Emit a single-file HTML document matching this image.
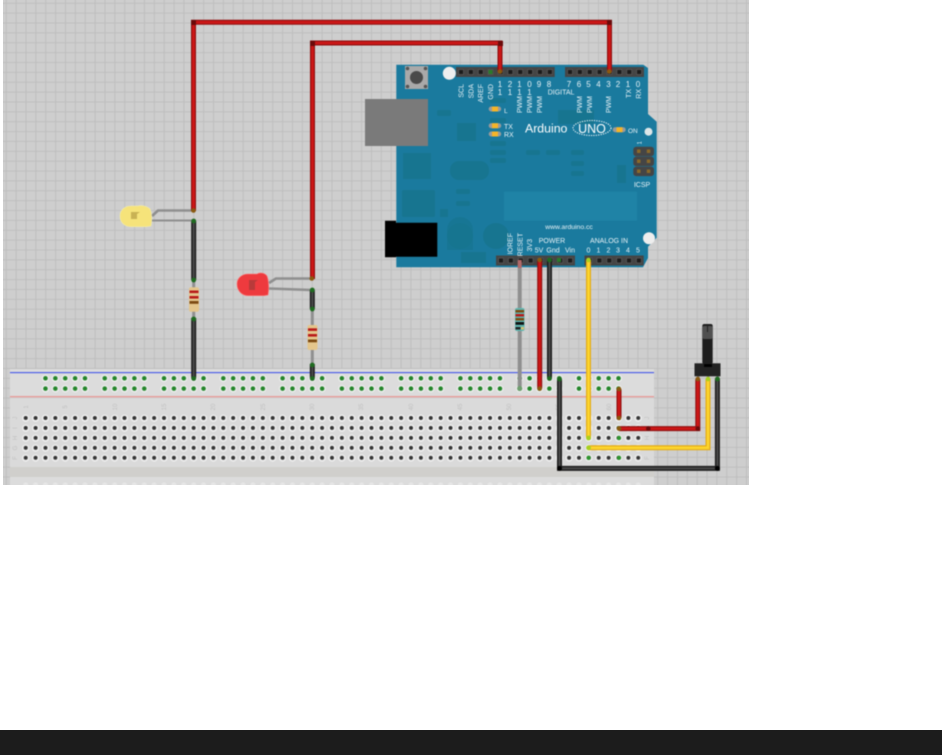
<!DOCTYPE html>
<html><head><meta charset="utf-8"><style>
html,body{margin:0;padding:0;background:#fff;width:942px;height:755px;overflow:hidden}
svg{display:block}
text{font-family:"Liberation Sans",sans-serif}
.soft{filter:blur(.4px)}
</style></head><body>
<svg width="942" height="755" viewBox="0 0 942 755" xmlns="http://www.w3.org/2000/svg">
<defs>
<pattern id="g" patternUnits="userSpaceOnUse" x="5.8" y="2.8" width="9.87" height="9.87"><rect width="9.87" height="9.87" fill="#cecece"/><path d="M0 0H9.87M0 0V9.87" stroke="#bdbdbd" stroke-width="1.8" fill="none"/></pattern>
<pattern id="hole" patternUnits="userSpaceOnUse" x="20.76" y="413.02" width="9.88" height="9.95"><circle cx="4.94" cy="5.2" r="3.6" fill="#f0f0f0"/><circle cx="4.94" cy="4.98" r="2" fill="#333"/></pattern>
<pattern id="rail" patternUnits="userSpaceOnUse" x="20.76" y="373.2" width="9.88" height="10.3"><circle cx="4.94" cy="5.2" r="3.6" fill="#f0f0f0"/><circle cx="4.94" cy="5.1" r="2.3" fill="#24852a"/></pattern>
<pattern id="faint" patternUnits="userSpaceOnUse" x="20.76" y="480" width="9.88" height="9"><circle cx="4.94" cy="5" r="2.6" fill="#e6e6e6"/></pattern>
<pattern id="pin" patternUnits="userSpaceOnUse" x="456" y="67" width="9.87" height="10"><rect x="2.6" y="2.6" width="4.8" height="4.8" fill="#1c1c1c" stroke="#666" stroke-width=".5"/></pattern>
<pattern id="pinb" patternUnits="userSpaceOnUse" x="496" y="255.5" width="9.87" height="10"><rect x="2.6" y="2.6" width="4.8" height="4.8" fill="#1c1c1c" stroke="#666" stroke-width=".5"/></pattern>
<pattern id="pinr" patternUnits="userSpaceOnUse" x="565" y="67" width="9.87" height="10"><rect x="2.6" y="2.6" width="4.8" height="4.8" fill="#1c1c1c" stroke="#666" stroke-width=".5"/></pattern>
<pattern id="pinc" patternUnits="userSpaceOnUse" x="584.5" y="255.5" width="9.87" height="10"><rect x="2.6" y="2.6" width="4.8" height="4.8" fill="#1c1c1c" stroke="#666" stroke-width=".5"/></pattern>
<clipPath id="c"><rect x="3" y="0" width="746" height="485"/></clipPath>
</defs>

<rect width="942" height="755" fill="#fff"/>
<rect x="0" y="730" width="942" height="25" fill="#1c1c1c"/>
<g clip-path="url(#c)"><g class="soft">
<rect x="0" y="-5" width="755" height="495" fill="url(#g)"/>

<!-- breadboard -->
<rect x="10" y="369" width="644" height="121" fill="#dcdcdc"/>
<rect x="10" y="398" width="644" height="69" fill="#dadada"/>
<rect x="10" y="467" width="644" height="10" fill="#d0cfcc"/>
<rect x="10" y="372" width="644" height="1.2" fill="#4f5fe8"/>
<rect x="10" y="396" width="644" height="1.4" fill="#e89a98"/>
<rect x="10" y="397.4" width="644" height="1" fill="#cfcfcf"/>
<rect x="20.76" y="413.02" width="622.4" height="49.75" fill="url(#hole)"/>
<rect x="20.76" y="480" width="622.4" height="9" fill="url(#faint)"/>
<g fill="url(#rail)">
<rect x="40.52" y="373.2" width="49.4" height="20.6"/>
<rect x="99.8" y="373.2" width="49.4" height="20.6"/>
<rect x="159.08" y="373.2" width="49.4" height="20.6"/>
<rect x="218.36" y="373.2" width="49.4" height="20.6"/>
<rect x="277.64" y="373.2" width="49.4" height="20.6"/>
<rect x="336.92" y="373.2" width="49.4" height="20.6"/>
<rect x="396.2" y="373.2" width="49.4" height="20.6"/>
<rect x="455.48" y="373.2" width="49.4" height="20.6"/>
<rect x="514.76" y="373.2" width="49.4" height="20.6"/>
<rect x="574.04" y="373.2" width="49.4" height="20.6"/>
</g>
<g font-size="6" fill="#c0c0c0" text-anchor="middle">
<text transform="translate(28,407) rotate(-90)">1</text>
<text transform="translate(67,407) rotate(-90)">5</text>
<text transform="translate(117,407) rotate(-90)">10</text>
<text transform="translate(166,407) rotate(-90)">15</text>
<text transform="translate(215,407) rotate(-90)">20</text>
<text transform="translate(265,407) rotate(-90)">25</text>
<text transform="translate(314,407) rotate(-90)">30</text>
<text transform="translate(363,407) rotate(-90)">35</text>
<text transform="translate(413,407) rotate(-90)">40</text>
<text transform="translate(462,407) rotate(-90)">45</text>
<text transform="translate(511,407) rotate(-90)">50</text>
<text transform="translate(560,407) rotate(-90)">55</text>
<text transform="translate(611,407) rotate(-90)">60</text>
<text transform="translate(17,418) rotate(-90)">J</text>
<text transform="translate(17,428) rotate(-90)">I</text>
<text transform="translate(17,438) rotate(-90)">H</text>
<text transform="translate(17,448) rotate(-90)">G</text>
<text transform="translate(17,458) rotate(-90)">F</text>
<text transform="translate(649,418) rotate(-90)">J</text>
<text transform="translate(649,428) rotate(-90)">I</text>
<text transform="translate(649,438) rotate(-90)">H</text>
<text transform="translate(649,448) rotate(-90)">G</text>
<text transform="translate(649,458) rotate(-90)">F</text>
</g>

<!-- arduino -->
<path d="M396.3 64.7H643.3L648 68V114L656.7 121.7V237.7L648 246.7V258L643 267.3H396.3Z" fill="#1a7a9e"/>
<g fill="#177590">
<rect x="437" y="110" width="14" height="6" rx="2"/>
<rect x="457" y="123" width="19" height="18" />
<rect x="403" y="153" width="28" height="26"/>
<rect x="450" y="161" width="39" height="19" rx="9"/>
<rect x="402" y="190" width="33" height="27" rx="2"/>
<rect x="456" y="189" width="14" height="5" rx="2"/>
<rect x="456" y="201" width="14" height="5" rx="2"/>
<rect x="490" y="98" width="16" height="5" rx="2"/>
<rect x="490" y="118" width="16" height="5" rx="2"/>
<rect x="490" y="141" width="16" height="5" rx="2"/>
<rect x="490" y="150" width="16" height="5" rx="2"/>
<rect x="490" y="158" width="16" height="5" rx="2"/>
<rect x="526" y="150" width="14" height="5" rx="2"/>
<rect x="546" y="150" width="14" height="5" rx="2"/>
<rect x="571" y="150" width="13" height="5" rx="2"/>
<rect x="571" y="161" width="13" height="5" rx="2"/>
<rect x="571" y="171" width="13" height="5" rx="2"/>
<rect x="617" y="165" width="9" height="18"/>
<rect x="558" y="110" width="36" height="14"/>
<rect x="440" y="209" width="8" height="8"/>
<rect x="461" y="252" width="25" height="11"/>
<circle cx="460" cy="236" r="13"/>
<circle cx="496" cy="236" r="13"/>
<path d="M447 230a13 13 0 0 1 26 0v20h-26z" opacity=".7"/>
</g>
<rect x="504" y="191.7" width="133" height="29" fill="#1f83a6"/>
<!-- usb / jack -->
<rect x="365" y="99" width="63" height="47" fill="#7a7a7a"/>
<path d="M385 220.7H396V222.7H437.3V256.7H396V257.3H385Z" fill="#000"/>
<!-- reset -->
<rect x="405" y="66" width="23" height="23" fill="#a9a9a9"/>
<circle cx="416.5" cy="77.5" r="6.5" fill="#4a4a4a"/>
<circle cx="407.5" cy="68.5" r="1.8" fill="#555"/><circle cx="425.5" cy="68.5" r="1.8" fill="#555"/><circle cx="407.5" cy="86.5" r="1.8" fill="#555"/><circle cx="425.5" cy="86.5" r="1.8" fill="#555"/>
<!-- holes -->
<circle cx="449.3" cy="73.3" r="6.5" fill="#eeeeee"/>
<circle cx="649" cy="238.3" r="6" fill="#eeeeee"/>
<circle cx="648.5" cy="131.7" r="4" fill="#dde6e8"/>
<!-- headers -->
<rect x="456" y="67" width="98.7" height="10" fill="#454545"/><rect x="456" y="67" width="98.7" height="10" fill="url(#pin)"/>
<rect x="565" y="67" width="79" height="10" fill="#454545"/><rect x="565" y="67" width="79" height="10" fill="url(#pinr)"/>
<rect x="496" y="255.5" width="79" height="10" fill="#454545"/><rect x="496" y="255.5" width="79" height="10" fill="url(#pinb)"/>
<rect x="584.5" y="255.5" width="59.2" height="10" fill="#454545"/><rect x="584.5" y="255.5" width="59.2" height="10" fill="url(#pinc)"/>
<rect x="488.5" y="70" width="4" height="4" fill="#2a7a2a"/>
<rect x="557" y="258" width="4" height="4" fill="#2a7a2a"/>
<!-- icsp -->
<rect x="633.3" y="146.7" width="20.7" height="9.5" rx="3" fill="#454545"/>
<rect x="633.3" y="156.6" width="20.7" height="9.5" rx="3" fill="#454545"/>
<rect x="633.3" y="166.6" width="20.7" height="9.5" rx="3" fill="#454545"/>
<g fill="#8a6a2a"><rect x="637" y="149.5" width="3.5" height="3.5"/><rect x="646.8" y="149.5" width="3.5" height="3.5"/><rect x="637" y="159.5" width="3.5" height="3.5"/><rect x="646.8" y="159.5" width="3.5" height="3.5"/><rect x="637" y="169.5" width="3.5" height="3.5"/><rect x="646.8" y="169.5" width="3.5" height="3.5"/></g>
<!-- LEDs -->
<g>
<rect x="488.7" y="106.5" width="12.5" height="5" rx="2.5" fill="#9a9a9a"/><rect x="492" y="106.5" width="6" height="5" fill="#f5b428"/>
<rect x="488.7" y="123.2" width="12.5" height="5" rx="2.5" fill="#9a9a9a"/><rect x="492" y="123.2" width="6" height="5" fill="#f5b428"/>
<rect x="488.7" y="131.5" width="12.5" height="5" rx="2.5" fill="#9a9a9a"/><rect x="492" y="131.5" width="6" height="5" fill="#f5b428"/>
<rect x="612.7" y="127.2" width="13" height="5" rx="2.5" fill="#9a9a9a"/><rect x="616.5" y="127.2" width="6" height="5" fill="#f5b428"/>
</g>
<!-- board text -->
<g fill="#e8f2f6" font-size="7">
<g text-anchor="end">
<text transform="translate(463.5,84) rotate(-90)">SCL</text>
<text transform="translate(473.3,84) rotate(-90)">SDA</text>
<text transform="translate(483,84) rotate(-90)">AREF</text>
<text transform="translate(493,84) rotate(-90)">GND</text>
<text transform="translate(522,96) rotate(-90)">PWM</text>
<text transform="translate(532,96) rotate(-90)">PWM</text>
<text transform="translate(542,96) rotate(-90)">PWM</text>
<text transform="translate(582,96) rotate(-90)">PWM</text>
<text transform="translate(592,96) rotate(-90)">PWM</text>
<text transform="translate(611,96) rotate(-90)">PWM</text>
<text transform="translate(631,89) rotate(-90)">TX</text>
<text transform="translate(641,89) rotate(-90)">RX</text>
<text transform="translate(512.5,233) rotate(-90)">IOREF</text>
<text transform="translate(522.5,233) rotate(-90)">RESET</text>
<text transform="translate(532,239) rotate(-90)">3V3</text>
</g>
<g text-anchor="middle" font-size="8">
<text x="500" y="87">1</text><text x="510" y="87">2</text><text x="519.5" y="87">1</text><text x="529.5" y="87">0</text><text x="539" y="87">9</text><text x="549" y="87">8</text>
<text x="569" y="87">7</text><text x="579" y="87">6</text><text x="588.5" y="87">5</text><text x="598.5" y="87">4</text><text x="608.5" y="87">3</text><text x="618" y="87">2</text><text x="628" y="87">1</text><text x="638" y="87">0</text>
<text x="500" y="95">1</text><text x="510" y="95">1</text><text x="519.5" y="95">1</text><text x="529.5" y="95">1</text>
</g>
<text x="547.7" y="94.5" font-size="7">DIGITAL</text>
<text x="504" y="113" font-size="6.5">L</text>
<text x="504" y="129" font-size="7">TX</text>
<text x="504" y="137" font-size="7">RX</text>
<text x="628" y="133" font-size="6.5">ON</text>
<text x="525" y="132.5" font-size="12.3" fill="#fff">Arduino</text>
<text x="592" y="133" font-size="12.5" fill="#fff" text-anchor="middle">UNO</text>
<text x="642" y="187" font-size="7" text-anchor="middle">ICSP</text>
<text transform="translate(641.5,144.5) rotate(-90)" font-size="6">1</text>
<text x="569" y="229" font-size="6.8" text-anchor="middle">www.arduino.cc</text>
<text x="552" y="243" font-size="7" text-anchor="middle">POWER</text>
<text x="609" y="243" font-size="7" text-anchor="middle">ANALOG IN</text>
<g text-anchor="middle" font-size="7">
<text x="539" y="252.5">5V</text><text x="553" y="252.5">Gnd</text><text x="570" y="252.5">Vin</text>
<text x="588.5" y="252.5">0</text><text x="598.5" y="252.5">1</text><text x="608.5" y="252.5">2</text><text x="618" y="252.5">3</text><text x="628" y="252.5">4</text><text x="638" y="252.5">5</text>
</g>
</g>
<ellipse cx="592" cy="128" rx="19" ry="7.5" fill="none" stroke="#fff" stroke-width="1" stroke-dasharray="1.2 1.2"/>

<!-- green main-hole connections -->
<g fill="#2f942f"><circle cx="588.6" cy="457.8" r="2.2"/><circle cx="619" cy="438" r="2.2"/><circle cx="619" cy="457.8" r="2.2"/><circle cx="619" cy="428.2" r="2.2"/></g>

<!-- gray legs -->
<g fill="none" stroke="#8f8f8f" stroke-linejoin="round">
<path d="M152 216L158 210.5H193" stroke-width="2.6"/>
<path d="M152 220.5H193" stroke-width="2"/>
<path d="M269 283L276 278.5H311" stroke-width="2.6"/>
<path d="M269 288.5L311 290" stroke-width="2.6"/>
<path d="M193.7 280V318" stroke-width="3"/>
<path d="M312.3 309V364" stroke-width="3"/>
<path d="M519.7 268V388" stroke-width="4"/>
</g>
<path d="M519.7 260V268" stroke="#b06a6a" stroke-width="4"/>
<circle cx="519.7" cy="388.5" r="2.6" fill="#6f9f6f"/>

<!-- LED bodies -->
<path d="M120 216c0-7 6-10 11-10h7c3-1 9 0 12 3 2 4 2 12 1 17l-5 0.7h-15c-6 0-11-4-11-10.7z" fill="#f6e37a" stroke="#f3ecaa" stroke-width=".6"/>
<path d="M131 212h9l-3 2v5h-6z" fill="#c9b254"/>
<path d="M237 284c0-6 5-10 11-10h9c3-2 8-1 10 2 2 5 2 14 1 19l-4 .7h-16c-6 0-11-5-11-11.7z" fill="#ee3a3e" stroke="#f77" stroke-width=".6"/>
<path d="M249 280h9l-3 2v8h-6z" fill="#b93a3a"/>

<!-- resistors -->
<g>
<rect x="189" y="287.3" width="10" height="24.4" rx="2" fill="#e4c68c"/>
<rect x="189.5" y="290.5" width="9" height="2.6" fill="#b81a1a"/><rect x="189.5" y="296" width="9" height="2.6" fill="#b81a1a"/><rect x="189.5" y="301" width="9" height="2.8" fill="#7c4a12"/>
<rect x="307.5" y="325" width="10" height="25" rx="2" fill="#e4c68c"/>
<rect x="308" y="328.3" width="9" height="2.6" fill="#b81a1a"/><rect x="308" y="334" width="9" height="2.6" fill="#b81a1a"/><rect x="308" y="339.5" width="9" height="2.8" fill="#7c4a12"/>
<rect x="515" y="308" width="9.5" height="23" rx="2" fill="#5fb5b0"/>
<rect x="515.5" y="310" width="8.5" height="2.5" fill="#7c4a12"/><rect x="515.5" y="314" width="8.5" height="2.5" fill="#b81a1a"/><rect x="515.5" y="318" width="8.5" height="2.5" fill="#7c4a12"/><rect x="515.5" y="322" width="8.5" height="2.8" fill="#111"/><rect x="515.5" y="327" width="5" height="2.5" fill="#222"/><rect x="521" y="327" width="3" height="2.5" fill="#d8c070"/>
</g>

<!-- pot -->
<rect x="697" y="375" width="2.5" height="4" fill="#999"/><rect x="707" y="375" width="2.5" height="4" fill="#999"/><rect x="716.5" y="375" width="2.5" height="4" fill="#999"/>
<rect x="702.3" y="324" width="10.4" height="40" rx="2" fill="#1e1e1e"/>
<rect x="702.3" y="326" width="10.4" height="13" rx="2" fill="#505050"/>
<rect x="707" y="326" width="1" height="6" fill="#222"/>
<rect x="694.5" y="363.3" width="26" height="13" fill="#232323"/>
<rect x="704" y="364" width="8" height="3" fill="#000"/>

<!-- wires -->
<g fill="none" stroke-linejoin="miter">
<g stroke="#8e0f0f" stroke-width="5">
<path d="M609.5 72V22.3H193.5V211"/><path d="M500 72V43H312.5V279"/>
<path d="M539.7 260V388.5"/><path d="M619 389V418"/><path d="M619 428.6H697.8V379"/>
</g>
<g stroke="#cc1616" stroke-width="2.8">
<path d="M609.5 72V22.3H193.5V211"/><path d="M500 72V43H312.5V279"/>
<path d="M539.7 260V388.5"/><path d="M619 389V418"/><path d="M619 428.6H697.8V379"/>
</g>
<g stroke="#1e1e1e" stroke-width="5">
<path d="M193.7 221V280"/><path d="M193.7 318V378"/><path d="M312.3 290V309"/><path d="M312.3 364V378"/>
<path d="M549.5 260V378.5"/><path d="M559.5 379V468.4H717.4V378.5"/>
</g>
<g stroke="#4a4a4a" stroke-width="2">
<path d="M193.7 221V280"/><path d="M193.7 318V378"/><path d="M312.3 290V309"/><path d="M312.3 364V378"/>
<path d="M549.5 260V378.5"/><path d="M559.5 379V468.4H717.4V378.5"/>
</g>
<g stroke="#e3ab17" stroke-width="5">
<path d="M588.5 260V438"/><path d="M588.5 447.8H708V379"/>
</g>
<g stroke="#fdd52e" stroke-width="2.6">
<path d="M588.5 260V438"/><path d="M588.5 447.8H708V379"/>
</g>
</g>
<!-- joints -->
<g fill="#6b0a0a">
<rect x="191" y="20" width="5" height="5"/><rect x="607" y="20" width="5" height="5"/><rect x="310" y="41" width="5" height="5"/><rect x="498" y="41" width="5" height="5"/>
<circle cx="648.3" cy="428.6" r="2.3"/><circle cx="697.8" cy="428.6" r="2.3"/>
</g>
<g fill="#000"><circle cx="559.5" cy="468.4" r="2.5"/><circle cx="717.4" cy="468.4" r="2.5"/></g>
<g fill="#1f6b20">
<circle cx="193.7" cy="221" r="2.4"/><circle cx="193.7" cy="280" r="2.4"/><circle cx="193.7" cy="319" r="2.4"/><circle cx="193.7" cy="378.5" r="2.4"/>
<circle cx="312.3" cy="290" r="2.4"/><circle cx="312.3" cy="309" r="2.4"/><circle cx="312.3" cy="365" r="2.4"/><circle cx="312.3" cy="378.5" r="2.4"/>
<circle cx="549.5" cy="378.5" r="2.4"/><circle cx="559.5" cy="379" r="2.4"/><circle cx="717.4" cy="379" r="2.4"/><circle cx="549.5" cy="260" r="2.4"/>
</g>
<g fill="#8a5a10">
<circle cx="193.5" cy="210.5" r="2.3"/><circle cx="311.8" cy="278.5" r="2.3"/><circle cx="539.7" cy="388.6" r="2.3"/><circle cx="619" cy="389" r="2.3"/><circle cx="619" cy="418" r="2.3"/><circle cx="619" cy="428.6" r="2.3"/><circle cx="697.8" cy="379" r="2.3"/><circle cx="539.7" cy="260" r="2.3"/><circle cx="500" cy="71.5" r="2.3"/><circle cx="609.3" cy="71.5" r="2.3"/>
</g>
<g fill="#a8d020"><circle cx="588.5" cy="438" r="2.4"/><circle cx="588.5" cy="447.8" r="2.4"/><circle cx="708" cy="379" r="2.3"/><circle cx="588.5" cy="260" r="2.3"/></g>
</g></g>
</svg>
</body></html>
